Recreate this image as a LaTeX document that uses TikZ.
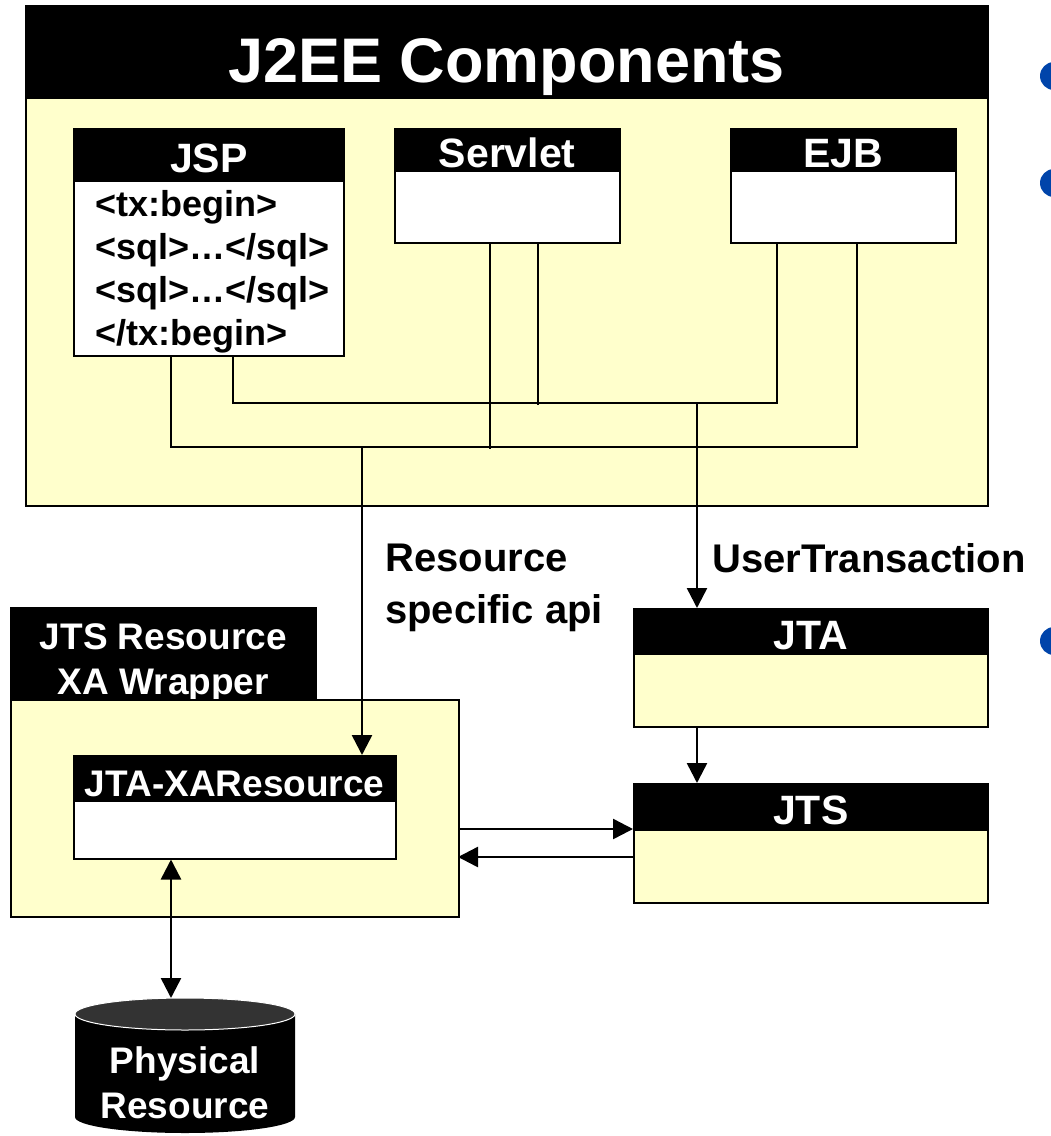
\documentclass[tikz,border=0pt]{standalone}
\usepackage{fontspec}
\setmainfont{Liberation Sans}
\usetikzlibrary{positioning,arrows.meta}
\definecolor{paleyellow}{RGB}{255,255,204}
\definecolor{bulletblue}{RGB}{0,68,170}
\definecolor{cylgray}{RGB}{51,51,51}
\tikzset{
  box/.style={draw=black, line width=1.5pt, inner sep=0pt, anchor=north west},
  hdr/.style={box, fill=black, text=white, text height=36pt, text depth=0pt, font=\bfseries\fontsize{41}{46}\selectfont},
  wire/.style={line width=2.5pt},
  arr/.style={wire, -{Triangle[length=20pt,width=20pt]}},
  dblarr/.style={wire, {Triangle[length=20pt,width=20pt]}-{Triangle[length=20pt,width=20pt]}},
  lbl/.style={font=\bfseries\fontsize{40}{52}\selectfont, align=left, inner sep=0pt}
}
\begin{document}
\begin{tikzpicture}[x=1pt,y=-1pt]
  \useasboundingbox (0,0) rectangle (1051,1136);
  \fill[bulletblue] (1054,76) circle (14pt) (1054,183) circle (14pt) (1054,641) circle (14pt);

  \node[box, fill=paleyellow, minimum width=962pt, minimum height=408pt] (j2ee) at (25,97) {};
  \node[hdr, minimum width=962pt, minimum height=92pt, text height=62pt, font=\bfseries\fontsize{63}{70}\selectfont] (j2eeh) at (25,5) {J2EE Components};

  \node[box, fill=white, minimum width=270pt, minimum height=175pt] (jsp) at (73,180) {};
  \node[hdr, minimum width=270pt, minimum height=52pt] (jsph) at (73,128) {JSP};
  \node[lbl, font=\bfseries\fontsize{36}{43}\selectfont, anchor=north west] (jsptxt) at (95,190)
    {<tx:begin>\\<sql>…</sql>\\<sql>…</sql>\\</tx:begin>};

  \node[box, fill=white, minimum width=225pt, minimum height=72pt] (servlet) at (394,170) {};
  \node[hdr, minimum width=225pt, minimum height=42pt] (servleth) at (394,128) {Servlet};
  \node[box, fill=white, minimum width=225pt, minimum height=72pt] (ejb) at (730,170) {};
  \node[hdr, minimum width=225pt, minimum height=42pt] (ejbh) at (730,128) {EJB};

  \coordinate (lowbus) at (362,447);
  \coordinate (highbus) at (697,403);
  \draw[wire] ([xshift=98pt]jsp.south west) |- (lowbus) -| ([xshift=127pt]ejb.south west);
  \draw[wire] ([xshift=160pt]jsp.south west) |- (highbus) -| ([xshift=47pt]ejb.south west);
  \draw[wire] ([xshift=96pt]servlet.south west) -- ++(0,205);
  \draw[wire] ([xshift=144pt]servlet.south west) -- ++(0,161);

  \node[lbl, anchor=north west] (rsapi) at (385,544) {Resource\\specific api};
  \node[lbl, anchor=base west] (utx) at (712,572) {UserTransaction};

  \node[hdr, minimum width=305pt, minimum height=90pt] (wrapl) at (10,607) {};
  \node[lbl, anchor=north, align=center, text=white, font=\bfseries\fontsize{37}{45}\selectfont] (wrapltxt) at (wrapl.north |- 0,623) {JTS Resource\\XA Wrapper};
  \node[box, fill=paleyellow, minimum width=448pt, minimum height=217pt] (wrap) at (10,699) {};
  \node[box, fill=white, minimum width=322pt, minimum height=58pt] (xares) at (73,800) {};
  \node[hdr, minimum width=322pt, minimum height=45pt, font=\bfseries\fontsize{37}{44}\selectfont] (xaresh) at (73,755) {JTA-XAResource};

  \node[box, fill=paleyellow, minimum width=354pt, minimum height=73pt] (jta) at (633,653) {};
  \node[hdr, minimum width=354pt, minimum height=45pt] (jtah) at (633,608) {JTA};
  \node[box, fill=paleyellow, minimum width=354pt, minimum height=73pt] (jts) at (633,829) {};
  \node[hdr, minimum width=354pt, minimum height=46pt] (jtsh) at (633,783) {JTS};

  \draw[arr] (lowbus) -- (lowbus |- xaresh.north);
  \draw[arr] (highbus) -- (highbus |- jtah.north);
  \draw[arr] (jta.south -| highbus) -- (jtsh.north -| highbus);
  \draw[arr] (wrap.east |- jts.north) -- (jts.north west);
  \draw[arr] ([yshift=-28pt]jts.north west) -- ++(-175,0);

  \fill[black] (75,1014) -- (75,1117) arc[start angle=180, end angle=360, x radius=110pt, y radius=16pt] -- (295,1014) -- cycle;
  \filldraw[fill=cylgray, draw=white, line width=1pt] (185,1014) ellipse [x radius=110pt, y radius=16pt];
  \node[lbl, align=center, text=white, font=\bfseries\fontsize{37}{45}\selectfont] (phys) at (185,1083) {Physical\\Resource};
  \coordinate (cyltop) at (171,998);
  \draw[dblarr] ([xshift=98pt]xares.south west) -- (cyltop);
\end{tikzpicture}
\end{document}
